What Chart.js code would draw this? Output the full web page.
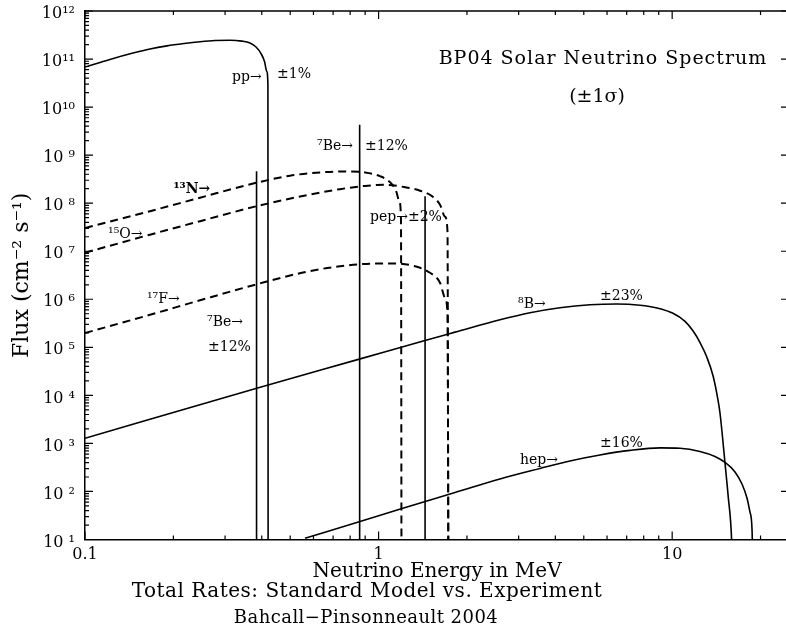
<!DOCTYPE html>
<html><head><meta charset="utf-8">
<script src="https://cdn.jsdelivr.net/npm/chart.js@4/dist/chart.umd.min.js"></script>
<style>
html,body{margin:0;padding:0;background:#fff;overflow:hidden;width:786px;height:633px}
#wrap{position:relative;width:800px;height:633px}
canvas{display:block}
</style>
</head><body><div id="wrap"><canvas id="c" width="800" height="633"></canvas></div>
<script>
// ---- data (energy in MeV, flux in cm^-2 s^-1) ----
const ppEnergy  = [0.1, 0.1216, 0.1457, 0.1665, 0.1903, 0.2174, 0.2465, 0.2773, 0.3119, 0.3425, 0.3648, 0.3824, 0.3977, 0.4088, 0.4162, 0.4198, 0.4205];
const ppFlux    = [6.8e10, 9.8e10, 1.33e11, 1.62e11, 1.88e11, 2.10e11, 2.29e11, 2.43e11, 2.47e11, 2.36e11, 2.15e11, 1.78e11, 1.30e11, 8.9e10, 5.5e10, 2.9e10, 1];

const lineEnergy = [0.384, 0.862, 1.44];          // 7Be, 7Be, pep lines
const lineFlux   = [4.6e8, 4.3e9, 1.39e8];
const lineNames  = ['7Be 0.384', '7Be 0.862', 'pep'];
const lineFloor  = 1;

const n13Energy = [0.1, 0.1665, 0.2465, 0.3845, 0.4992, 0.6316, 0.7685, 0.8988, 1.011, 1.0935, 1.1463, 1.178, 1.192, 1.197];
const n13Flux   = [3.04e7, 6.81e7, 1.30e8, 2.67e8, 3.74e8, 4.36e8, 4.57e8, 4.36e8, 3.65e8, 2.74e8, 1.82e8, 1.07e8, 4.5e7, 1];

const o15Energy = [0.1, 0.1665, 0.2465, 0.3845, 0.5689, 0.7389, 0.8988, 1.0515, 1.230, 1.384, 1.520, 1.619, 1.684, 1.717, 1.728];
const o15Flux   = [9.31e6, 2.21e7, 4.22e7, 8.66e7, 1.47e8, 1.96e8, 2.29e8, 2.41e8, 2.15e8, 1.82e8, 1.40e8, 9.3e7, 5.23e7, 2.55e7, 1];

const f17Energy = [0.1, 0.1665, 0.2465, 0.3845, 0.5689, 0.7389, 0.935, 1.137, 1.331, 1.496, 1.619, 1.684, 1.717, 1.73];
const f17Flux   = [1.98e5, 4.75e5, 9.53e5, 2.05e6, 3.74e6, 4.87e6, 5.5e6, 5.55e6, 4.87e6, 3.56e6, 2.21e6, 1.07e6, 4.75e5, 1];

const b8Energy  = [0.1, 0.3845, 0.8597, 1.439, 1.821, 2.591, 3.280, 4.148, 5.248, 6.486, 7.77, 8.88, 10.06, 11.06, 11.77, 12.43, 13.11, 13.80, 14.32, 14.55, 15.13, 15.52, 15.94, 16.1];
const b8Flux    = [1.28e3, 1.41e4, 5.68e4, 1.39e5, 2.07e5, 3.74e5, 5.24e5, 6.65e5, 7.67e5, 7.98e5, 7.5e5, 6.56e5, 5.1e5, 3.48e5, 2.21e5, 1.27e5, 6.34e4, 2.47e4, 8.05e3, 4.3e3, 398, 78, 9.8, 1];

const hepEnergy = [0.5616, 0.8643, 1.2015, 1.821, 2.591, 3.546, 4.486, 5.677, 7.183, 9.088, 10.63, 12.43, 13.99, 15.13, 16.37, 17.29, 17.98, 18.41, 18.71, 18.86];
const hepFlux   = [10.6, 23.7, 44.3, 95, 182, 301, 432, 575, 715, 806, 792, 681, 536, 402, 255, 143, 73, 37, 15.8, 1];

const xTickValues = [0.1, 1, 10];
const xTickLabels = ['0.1', '1', '10'];
const yTickValues = [1e1, 1e2, 1e3, 1e4, 1e5, 1e6, 1e7, 1e8, 1e9, 1e10, 1e11, 1e12];
const yTickLabels = ['10 ¹', '10 ²', '10 ³', '10 ⁴', '10 ⁵', '10 ⁶', '10 ⁷', '10 ⁸', '10 ⁹', '10¹⁰', '10¹¹', '10¹²'];

// ---- text labels anchored in data coordinates ----
const notes = [
  {t:'pp→',  e:0.317, f:4.1e10},
  {t:'±1%',  e:0.451, f:4.75e10},
  {t:'⁷Be→', e:0.617, f:1.5e9},
  {t:'±12%', e:0.899, f:1.5e9},
  {t:'¹³N→', e:0.20,  f:1.91e8, bold:true},
  {t:'¹⁵O→', e:0.1198, f:2.21e7},
  {t:'¹⁷F→', e:0.1626, f:9.8e5},
  {t:'⁷Be→', e:0.2604, f:3.24e5},
  {t:'±12%', e:0.2624, f:9.77e4},
  {t:'pep→±2%', e:0.935, f:4.99e7},
  {t:'⁸B→',  e:2.985, f:7.67e5},
  {t:'±23%', e:5.68,  f:1.13e6},
  {t:'hep→', e:3.03,  f:453},
  {t:'±16%', e:5.68,  f:1.02e3}
];

const SERIF = '"DejaVu Serif", "Liberation Serif", serif';

function pts(xs, ys){ return xs.map((x,i)=>({x:x, y:ys[i]})); }

function curve(label, xs, ys, dashed){
  return {label, data: pts(xs, ys), borderColor:'#000', borderWidth: dashed ? 2 : 1.6,
    borderDash: dashed ? [8,5] : [], pointRadius:0, cubicInterpolationMode:'monotone', fill:false};
}

const datasets = [
  curve('pp', ppEnergy, ppFlux, false),
  ...lineEnergy.map((e,i)=>curve(lineNames[i], [e, e], [lineFlux[i], lineFloor], false)),
  curve('13N', n13Energy, n13Flux, true),
  curve('15O', o15Energy, o15Flux, true),
  curve('17F', f17Energy, f17Flux, true),
  curve('8B', b8Energy, b8Flux, false),
  curve('hep', hepEnergy, hepFlux, false)
];

const decorations = {
  id:'decorations',
  afterDatasetsDraw(chart){
    const {ctx, chartArea:a, scales:{x, y}} = chart;
    ctx.save();
    ctx.strokeStyle = '#000';
    ctx.lineWidth = 1.5;
    ctx.beginPath();
    ctx.moveTo(a.left, a.top); ctx.lineTo(a.right, a.top); ctx.lineTo(a.right, a.bottom);
    ctx.stroke();
    ctx.lineWidth = 1.2;
    ctx.beginPath();
    // x ticks (bottom & top, pointing inward)
    for (let d = 0.1; d < 30; d *= 10) {
      for (let m = 1; m <= 9; m++) {
        const v = d * m;
        if (v < x.min - 1e-9 || v > x.max) continue;
        const px = x.getPixelForValue(v);
        const len = m === 1 ? 8 : 4;
        ctx.moveTo(px, a.bottom); ctx.lineTo(px, a.bottom - len);
        ctx.moveTo(px, a.top); ctx.lineTo(px, a.top + len);
      }
    }
    // y ticks (left: major+minor, right: major)
    for (let d = 10; d <= 1e12; d *= 10) {
      for (let m = 1; m <= 9; m++) {
        const v = d * m;
        if (v > y.max * 1.0001) continue;
        const py = y.getPixelForValue(v);
        const len = m === 1 ? 8 : 4;
        ctx.moveTo(a.left, py); ctx.lineTo(a.left + len, py);
        if (m === 1) { ctx.moveTo(a.right, py); ctx.lineTo(a.right - 8, py); }
      }
    }
    ctx.stroke();

    // annotations
    ctx.fillStyle = '#000';
    ctx.textBaseline = 'middle';
    ctx.textAlign = 'left';
    for (const n of notes) {
      ctx.font = (n.bold ? 'bold ' : '') + '14px ' + SERIF;
      ctx.fillText(n.t, x.getPixelForValue(n.e), y.getPixelForValue(n.f));
    }
    // in-plot title
    ctx.textAlign = 'center';
    ctx.font = '19px ' + SERIF;
    try { ctx.letterSpacing = '1px'; } catch(e) {}
    ctx.fillText('BP04 Solar Neutrino Spectrum', x.getPixelForValue(5.81), y.getPixelForValue(1.02e11));
    try { ctx.letterSpacing = '0px'; } catch(e) {}
    ctx.fillText('(±1σ)', x.getPixelForValue(5.55), y.getPixelForValue(1.58e10));
    // lines below the axis title
    ctx.font = '20px ' + SERIF;
    try { ctx.letterSpacing = '0.5px'; } catch(e) {}
    ctx.fillText('Total Rates: Standard Model vs. Experiment', 367, 592);
    ctx.font = '18px ' + SERIF;
    try { ctx.letterSpacing = '0.45px'; } catch(e) {}
    ctx.fillText('Bahcall\u2212Pinsonneault 2004', 366, 618);
    ctx.restore();
  }
};

new Chart(document.getElementById('c'), {
  type:'scatter',
  data:{datasets},
  options:{
    responsive:false, animation:false, showLine:true,
    layout:{padding:{top:11, right:11, left:0, bottom:0}},
    plugins:{legend:{display:false}, tooltip:{enabled:false}, title:{display:false}},
    scales:{
      x:{type:'logarithmic', position:'bottom', min:0.1, max:25,
        afterFit(s){ s.height = 93.5; s.paddingLeft = 0; s.paddingRight = 0; },
        afterBuildTicks(s){ s.ticks = xTickValues.map(v=>({value:v})); },
        grid:{display:false, drawTicks:false},
        border:{display:true, color:'#000', width:1.5},
        ticks:{color:'#000', padding:6, maxRotation:0, autoSkip:false,
          font:{family:SERIF, size:16},
          callback:(v,i)=>xTickLabels[i]},
        title:{display:true, text:'Neutrino Energy in MeV', color:'#000',
          font:{family:SERIF, size:20}, padding:{top:0, bottom:49}}
      },
      y:{type:'logarithmic', position:'left', min:10, max:1e12,
        afterFit(s){ s.width = 85; s.paddingTop = 0; s.paddingBottom = 0; },
        afterBuildTicks(s){ s.ticks = yTickValues.map(v=>({value:v})); },
        grid:{display:false, drawTicks:false},
        border:{display:true, color:'#000', width:1.5},
        ticks:{color:'#000', padding:10, autoSkip:false, labelOffset:3,
          font:{family:SERIF, size:16},
          callback:(v,i)=>yTickLabels[i]},
        title:{display:true, text:'Flux (cm⁻² s⁻¹)', color:'#000',
          font:{family:SERIF, size:22}, padding:{top:9, bottom:0}}
      }
    }
  },
  plugins:[decorations]
});
</script>
</body></html>
